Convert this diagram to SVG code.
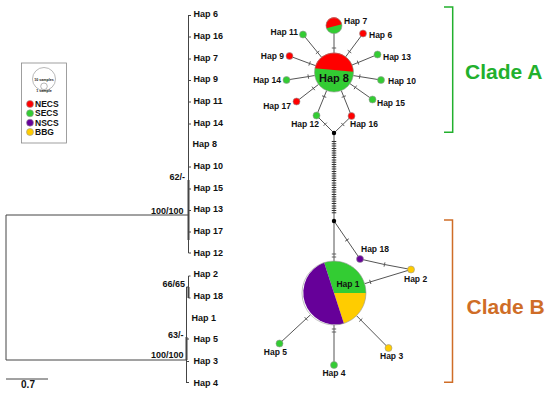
<svg xmlns="http://www.w3.org/2000/svg" width="550" height="394" viewBox="0 0 550 394">
<style>
.t{font-family:"Liberation Sans",Arial,sans-serif;font-weight:bold;fill:#111}
.tl{font-size:9px}
.nl{font-size:8.5px}
.br{stroke:#444;stroke-width:1;fill:none}
.brt{stroke:#444;stroke-width:2;fill:none}
.e{stroke:#555;stroke-width:1;fill:none}
.n{stroke:#999;stroke-width:0.6}
.R{fill:#ff0000}.G{fill:#33cc33}.P{fill:#660099}.Y{fill:#ffcc00}
</style>
<defs>
<marker id="tk" markerUnits="userSpaceOnUse" markerWidth="8" markerHeight="8" viewBox="-4 -4 8 8" refX="0" refY="0" orient="auto">
<line x1="0" y1="-2.2" x2="0" y2="2.2" stroke="#555" stroke-width="0.9"/>
</marker>
</defs>
<rect width="550" height="394" fill="#fff"/>

<g id="tree">
<path class="br" d="M188.5,15V253M188.5,15.5h2.5M188.5,37h2.5M188.5,59h2.5M188.5,80.5h2.5M188.5,102h2.5M188.5,124h2.5M188.5,167h2.5M188.5,189h2.5M188.5,210.5h2.5M188.5,232h2.5M188.5,253h2.5"/>
<path class="brt" d="M188.5,180V240"/>
<path class="br" d="M6,215H188.5M6,215V360H186.5M186.5,287V383M186.5,287H188.5M188.5,276V298M188.5,276h2M188.5,298h2M186.5,339h2.5M186.5,361.5h2.5M186.5,382.5h2.5"/>
<path class="brt" d="M188.5,287V298M186.5,337V360"/>
<path class="br" d="M6,379H48"/>
<text class="t" x="28" y="388" font-size="10" text-anchor="middle">0.7</text>
<g class="t" font-size="9" text-anchor="end">
<text x="185" y="180">62/-</text>
<text x="183.5" y="213.5">100/100</text>
<text x="185" y="286.5">66/65</text>
<text x="183.5" y="338.3">63/-</text>
<text x="183.5" y="357.5">100/100</text>
</g>
<g class="t tl">
<text x="193.5" y="17.3">Hap 6</text>
<text x="193.5" y="39">Hap 16</text>
<text x="193.5" y="60.6">Hap 7</text>
<text x="193.5" y="82.3">Hap 9</text>
<text x="193.5" y="104">Hap 11</text>
<text x="193.5" y="125.6">Hap 14</text>
<text x="192.5" y="147.3">Hap 8</text>
<text x="193.5" y="169">Hap 10</text>
<text x="193.5" y="190.6">Hap 15</text>
<text x="193.5" y="212.3">Hap 13</text>
<text x="193.5" y="234">Hap 17</text>
<text x="193.5" y="255.6">Hap 12</text>
<text x="193.5" y="277.3">Hap 2</text>
<text x="193.5" y="299">Hap 18</text>
<text x="191.5" y="320.6">Hap 1</text>
<text x="193.5" y="342.3">Hap 5</text>
<text x="193.5" y="364">Hap 3</text>
<text x="193.5" y="385.6">Hap 4</text>
</g>
</g>

<g id="legend">
<rect x="21.5" y="63" width="45" height="80" fill="#fff" stroke="#888" stroke-width="0.8"/>
<circle cx="44" cy="79" r="11.5" fill="#fff" stroke="#888" stroke-width="0.6"/>
<circle cx="44" cy="86.3" r="3.3" fill="#fff" stroke="#888" stroke-width="0.6"/>
<text class="t" x="44" y="80.5" font-size="3.6" text-anchor="middle">10 samples</text>
<text class="t" x="44" y="92.3" font-size="3.6" text-anchor="middle">1 sample</text>
<circle class="R n" cx="30" cy="104" r="3.5"/>
<circle class="G n" cx="30" cy="113.3" r="3.5"/>
<circle class="P n" cx="30" cy="122.7" r="3.5"/>
<circle class="Y n" cx="30" cy="132" r="3.5"/>
<g class="t" font-size="8.5">
<text x="35" y="107">NECS</text>
<text x="35" y="116.3">SECS</text>
<text x="35" y="125.7">NSCS</text>
<text x="35" y="135">BBG</text>
</g>
</g>

<g id="connectors">
<path class="e" marker-mid="url(#tk)" d="M303,34.5L317.6,52.4L321.7,57.4"/>
<path class="e" marker-mid="url(#tk)" d="M363,33.5L349.5,51.6L345.6,56.9"/>
<path class="e" marker-mid="url(#tk)" d="M289.5,56L309.6,63.5L315.7,65.7"/>
<path class="e" marker-mid="url(#tk)" d="M377.5,54.5L358,62.6L352,65"/>
<path class="e" marker-mid="url(#tk)" d="M286.5,80L308.3,76.6L314.7,75.5"/>
<path class="e" marker-mid="url(#tk)" d="M381,80L359.7,76.6L353.3,75.6"/>
<path class="e" marker-mid="url(#tk)" d="M296.5,101.5L313.4,88.4L318.6,84.4"/>
<path class="e" marker-mid="url(#tk)" d="M372.5,99.5L355.3,87.4L350,83.7"/>
<path class="e" marker-mid="url(#tk)" d="M316.5,115.5L324.2,96.6L326.6,90.6"/>
<path class="e" marker-mid="url(#tk)" d="M351.5,116L343.7,96.6L341.3,90.6"/>
<path class="e" marker-mid="url(#tk)" d="M334,33L334,48L334,53"/>
<path class="e" marker-mid="url(#tk)" d="M316.5,115.5L325.2,124.2L334,133"/>
<path class="e" marker-mid="url(#tk)" d="M351.5,116L342.8,124.5L334,133"/>
<path class="e" d="M334,133V221"/>
<path d="M334,141V214" stroke="#333" stroke-width="4.5" stroke-dasharray="1 1.3" fill="none"/>
<path class="e" marker-mid="url(#tk)" d="M334,221L334,254L334,257L334,261"/>
<path class="e" marker-mid="url(#tk)" d="M334,221L347,240L360,259"/>
<path class="e" marker-mid="url(#tk)" d="M360,259L384.5,264.5L411,269.5"/>
<path class="e" marker-mid="url(#tk)" d="M411,269.5L370.3,281.9L364.6,283.7"/>
<path class="e" marker-mid="url(#tk)" d="M279.5,343.5L306.1,318.8L310.5,314.8"/>
<path class="e" marker-mid="url(#tk)" d="M334,365L334,332L334,329L334,325"/>
<path class="e" marker-mid="url(#tk)" d="M388.5,348L360.8,320L356.5,315.7"/>
</g>

<g id="hap8">
<circle cx="334" cy="72.5" r="19.5" fill="#33cc33"/>
<path class="R" d="M314.7,68.3A19.5,19.5 0 0 1 353.3,71.7Z"/>
<circle cx="334" cy="72.5" r="19.5" fill="none" stroke="#999" stroke-width="0.6"/>
<text class="t" x="334" y="81.5" font-size="11" text-anchor="middle">Hap 8</text>
</g>
<g id="hap7">
<circle cx="334" cy="25.7" r="8" fill="#33cc33"/>
<path class="R" d="M326.4,28.2A8,8 0 1 1 341.8,24.3Z"/>
<circle cx="334" cy="25.7" r="8" fill="none" stroke="#999" stroke-width="0.6"/>
<text class="t nl" x="344" y="23.7">Hap 7</text>
</g>
<g id="hap11"><circle class="G n" cx="303" cy="34.5" r="3.5"/><text class="t nl" x="298" y="35.3" text-anchor="end">Hap 11</text></g>
<g id="hap6"><circle class="R n" cx="363" cy="33.5" r="3.5"/><text class="t nl" x="369" y="38">Hap 6</text></g>
<g id="hap9"><circle class="R n" cx="289.5" cy="56" r="3.5"/><text class="t nl" x="284" y="58.5" text-anchor="end">Hap 9</text></g>
<g id="hap13"><circle class="G n" cx="377.5" cy="54.5" r="3.5"/><text class="t nl" x="383" y="60">Hap 13</text></g>
<g id="hap14"><circle class="G n" cx="286.5" cy="80" r="3.5"/><text class="t nl" x="281" y="83" text-anchor="end">Hap 14</text></g>
<g id="hap10"><circle class="G n" cx="381" cy="80" r="3.5"/><text class="t nl" x="388" y="83.7">Hap 10</text></g>
<g id="hap17"><circle class="R n" cx="296.5" cy="101.5" r="3.5"/><text class="t nl" x="291" y="108.5" text-anchor="end">Hap 17</text></g>
<g id="hap15"><circle class="G n" cx="372.5" cy="99.5" r="3.5"/><text class="t nl" x="377" y="105.7">Hap 15</text></g>
<g id="hap12"><circle class="G n" cx="316.5" cy="115.5" r="3.5"/><text class="t nl" x="319" y="127" text-anchor="end">Hap 12</text></g>
<g id="hap16"><circle class="R n" cx="351.5" cy="116" r="3.5"/><text class="t nl" x="350" y="127">Hap 16</text></g>
<g id="mv1"><circle cx="334" cy="133" r="2.2" fill="#000"/></g>
<g id="mv2"><circle cx="334" cy="221" r="2.2" fill="#000"/></g>

<g id="hap1">
<path class="G" d="M334,293L324.1,262.6A32,32 0 0 1 366,293Z"/>
<path class="Y" d="M334,293L366,293A32,32 0 0 1 343.9,323.4Z"/>
<path class="P" d="M334,293L343.9,323.4A32,32 0 0 1 324.1,262.6Z"/>
<circle cx="334" cy="293" r="32" fill="none" stroke="#999" stroke-width="0.6"/>
<text class="t nl" x="348" y="287" text-anchor="middle">Hap 1</text>
</g>
<g id="hap18"><circle class="P n" cx="360" cy="259" r="3.5"/><text class="t nl" x="361" y="252.3">Hap 18</text></g>
<g id="hap2"><circle class="Y n" cx="411" cy="269.5" r="3.5"/><text class="t nl" x="404" y="281.7">Hap 2</text></g>
<g id="hap5"><circle class="G n" cx="279.5" cy="343.5" r="3.5"/><text class="t nl" x="287" y="355.3" text-anchor="end">Hap 5</text></g>
<g id="hap4"><circle class="G n" cx="334" cy="365" r="3.5"/><text class="t nl" x="334" y="376.3" text-anchor="middle">Hap 4</text></g>
<g id="hap3"><circle class="Y n" cx="388.5" cy="348" r="3.5"/><text class="t nl" x="380" y="358.7">Hap 3</text></g>

<g id="cladeA">
<path d="M444,7H452.7V132.3H444" stroke="#22b02d" stroke-width="1.5" fill="none"/>
<text x="465" y="79" font-family="Liberation Sans,Arial,sans-serif" font-weight="bold" font-size="21" fill="#22b02d">Clade A</text>
</g>
<g id="cladeB">
<path d="M444,220H452.5V382.3H444" stroke="#cf6d27" stroke-width="1.5" fill="none"/>
<text x="466.5" y="313.5" font-family="Liberation Sans,Arial,sans-serif" font-weight="bold" font-size="21" fill="#cf6d27">Clade B</text>
</g>
</svg>
